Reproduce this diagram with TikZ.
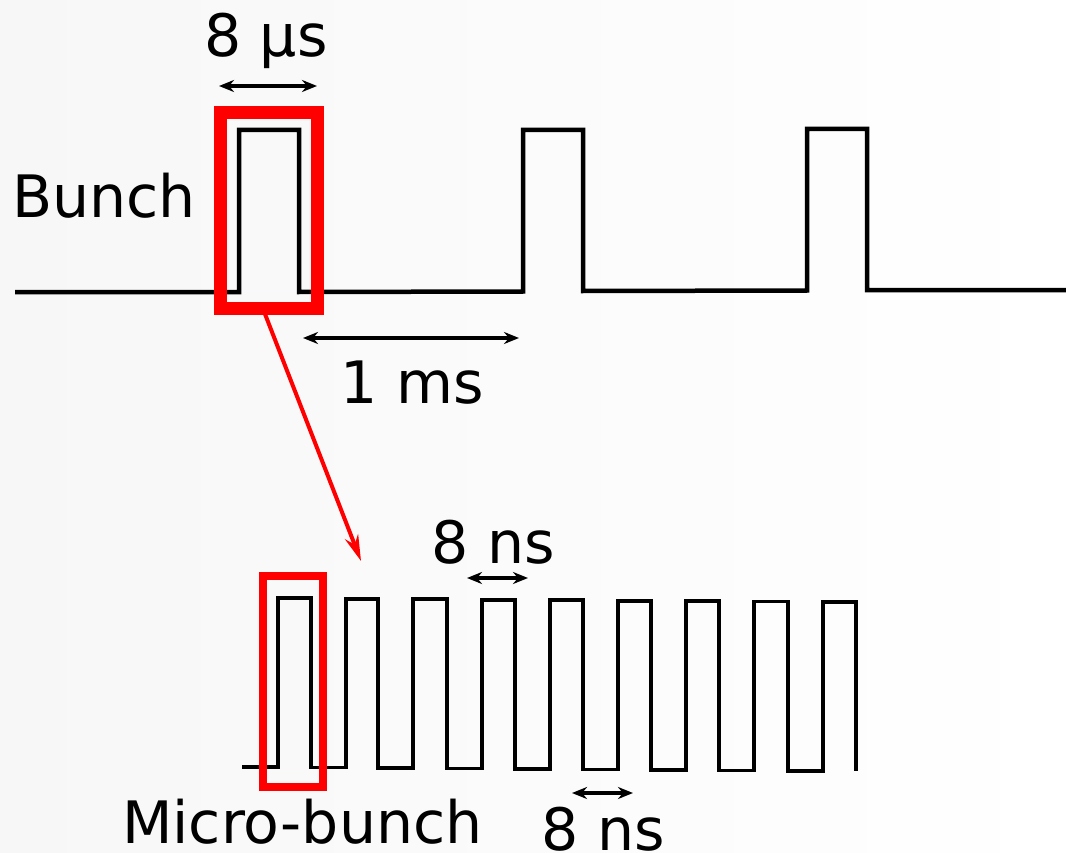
\documentclass[tikz,border=0pt]{standalone}
\usepackage{fontspec}
\setmainfont{DejaVu Sans}
\usetikzlibrary{arrows.meta}
\definecolor{bg}{RGB}{247,247,247}
\definecolor{boxred}{RGB}{255,0,0}
\begin{document}
\begin{tikzpicture}[x=1pt,y=-1pt,
  wave/.style={line width=4.5pt,line join=miter},
  microwave/.style={line width=3.5pt,line join=miter},
  dim/.style={line width=3.8pt,{Stealth[length=15pt,width=12pt]}-{Stealth[length=15pt,width=12pt]}},
  lbl/.style={font=\fontsize{58.5}{68}\selectfont,inner sep=0pt},
  bigbox/.style={draw=boxred,line width=13pt},
  smallbox/.style={draw=boxred,line width=8pt},
  zoomarrow/.style={draw=boxred,line width=4pt,-{Stealth[length=26pt,width=14pt]}}]
\shade[left color=bg,right color=white] (0,0) rectangle (1066,853);
\useasboundingbox (0,0) rectangle (1066,853);
% top waveform
\draw[wave] (15,292) -- (239,292) -- (239,130) -- (299,130) -- (299,292)
  -- (523,291.5) -- (523,130) -- (583,130) -- (583,291)
  -- (807,290.5) -- (807,129) -- (867,129) -- (867,290) -- (1066,290);
% big red box
\draw[bigbox] (220,113) rectangle (317,308);
\coordinate (bigboxbottom) at (265,314);
% zoom arrow
\coordinate (zoomtip) at (361,561);
\draw[zoomarrow] (bigboxbottom) -- (zoomtip);
% labels top
\node[lbl,anchor=base] (mus) at (266,57) {8 µs};
\coordinate (musL) at (219,86); \coordinate (musR) at (317,86);
\draw[dim] (musL) -- (musR);
\node[lbl,anchor=base west] (bunch) at (12,218) {Bunch};
\coordinate (msL) at (303,338); \coordinate (msR) at (519,338);
\draw[dim] (msL) -- (msR);
\node[lbl,anchor=base] (ms) at (412,403) {1 ms};
% micro-bunch waveform
\draw[microwave] (242,767)
  -- (278,767) -- (278,598) -- (311,598) -- (311,767.5)
  -- (346,767.5) -- (346,599) -- (378,599) -- (378,768)
  -- (413,768) -- (413,599) -- (447,599) -- (447,768.5)
  -- (482,768.5) -- (482,600) -- (515,600) -- (515,769)
  -- (550,769) -- (550,600) -- (583,600) -- (583,769.5)
  -- (618,769.5) -- (618,601) -- (651,601) -- (651,770)
  -- (686,770) -- (686,601) -- (719,601) -- (719,770.5)
  -- (754,770.5) -- (754,601.5) -- (788,601.5) -- (788,771)
  -- (823,771) -- (823,602) -- (856,602) -- (856,771);
% small red box
\draw[smallbox] (263,576) rectangle (323,787);
% ns labels
\node[lbl,anchor=base] (nstop) at (493,563) {8 ns};
\coordinate (nsL) at (467,578); \coordinate (nsR) at (528,578);
\draw[dim] (nsL) -- (nsR);
\coordinate (ns2L) at (572,793); \coordinate (ns2R) at (633,793);
\draw[dim] (ns2L) -- (ns2R);
\node[lbl,anchor=base] (nsbot) at (603,850) {8 ns};
\node[lbl,anchor=base west] (micro) at (122,843) {Micro-bunch};
\end{tikzpicture}
\end{document}
